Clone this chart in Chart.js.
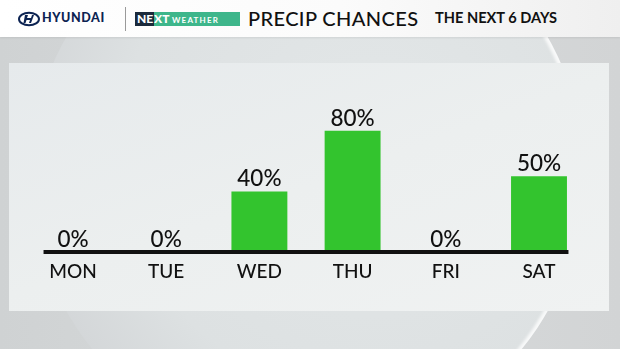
<!DOCTYPE html>
<html>
<head>
<meta charset="utf-8">
<script src="https://cdn.jsdelivr.net/npm/chart.js@4"></script>
<style>
  html, body { margin: 0; padding: 0; }
  body { width: 620px; height: 349px; overflow: hidden; position: relative;
         background: linear-gradient(90deg, #cfd2d3 0%, #d8dbdc 50%, #d2d4d5 100%);
         font-family: Lato, "Noto Sans", sans-serif; }
  .sphere { position: absolute; left: 30px; top: -103px; width: 554px; height: 554px; border-radius: 50%;
            background: radial-gradient(circle at 62% 45%, #e3e7e8 0%, #dde1e2 55%, #d2d5d7 80%, #c3c6c8 100%);
            box-shadow: inset -4px 0 3px rgba(255,255,255,0.8); }
  .header { position: absolute; left: 0; top: 0; width: 620px; height: 37px;
            background: linear-gradient(90deg, #ffffff 0%, #fbfbfb 55%, #efefef 100%);
            box-shadow: 0 1px 2px rgba(0,0,0,0.08); }
  .panel { position: absolute; left: 9px; top: 63px; width: 600px; height: 248px;
           background: linear-gradient(160deg, #e6eaec 0%, #ecefef 50%, #f0f2f2 100%); }
  .txt { position: absolute; white-space: nowrap; line-height: 1; }
  .brand { left: 42px; top: 12px; font-size: 12.5px; font-weight: 900; color: #0c2352; letter-spacing: 0.6px; }
  .sep { position: absolute; left: 125px; top: 7px; width: 1px; height: 24px; background: #9a9a9a; }
  .nw-dark { position: absolute; left: 135px; top: 12px; width: 19px; height: 14px; background: #1b2a3b; }
  .nw-green { position: absolute; left: 154px; top: 12px; width: 86px; height: 14px; background: #3eb68b; }
  .nw1 { left: 137px; top: 13px; font-size: 12px; font-weight: 900; color: #fff; }
  .nw2 { left: 154px; top: 13px; font-size: 12px; font-weight: 900; color: #fff; }
  .nw3 { left: 172px; top: 15.5px; font-size: 8px; font-weight: 700; color: #fff; letter-spacing: 1.2px; }
  .title { left: 248px; top: 8px; font-size: 20px; font-weight: 500; color: #111; letter-spacing: 0.4px; }
  .sub { left: 435px; top: 11px; font-size: 14.6px; font-weight: 700; color: #111; }
  canvas { position: absolute; left: 0; top: 0; }
</style>
</head>
<body>
<div class="sphere"></div>
<div class="header">
  <svg style="position:absolute;left:18px;top:11px" width="22" height="16" viewBox="0 0 22 16">
    <ellipse cx="11" cy="8" rx="10" ry="6.3" fill="none" stroke="#0c2352" stroke-width="2"/>
    <path d="M7 4 L10 4 L9 7 L13 7 L14 4 L16 4 L13 12 L11 12 L12 9 L8.5 9 L7.5 12 L5.5 12 Z" fill="#0c2352"/>
  </svg>
  <div class="txt brand">HYUNDAI</div>
  <div class="sep"></div>
  <div class="nw-dark"></div>
  <div class="nw-green"></div>
  <div class="txt nw1">NE</div>
  <div class="txt nw2">XT</div>
  <div class="txt nw3">WEATHER</div>
  <div class="txt title">PRECIP CHANCES</div>
  <div class="txt sub">THE NEXT 6 DAYS</div>
</div>
<div class="panel"></div>
<canvas id="chart" width="620" height="349"></canvas>
<script>
const days = ["MON", "TUE", "WED", "THU", "FRI", "SAT"];
const precipChance = [0, 0, 40, 80, 0, 50];
const valueLabels = ["0%", "0%", "40%", "80%", "0%", "50%"];

const barColor = "#33c42e";
const ink = "#111111";

// baseline under the bars + percent labels above them
const barExtras = {
    id: "barExtras",
    afterDatasetsDraw(chart) {
        const ctx = chart.ctx;
        const bars = chart.getDatasetMeta(0).data;
        const first = bars[0], last = bars[bars.length - 1];
        const y0 = chart.scales.y.getPixelForValue(0);
        const x1 = first.x - first.width / 2 - 1.5;
        const x2 = last.x + last.width / 2 + 1.5;

        ctx.save();
        ctx.fillStyle = ink;
        ctx.fillRect(x1, y0 - 2, x2 - x1, 4);

        ctx.font = "500 22.5px Lato";
        ctx.textAlign = "center";
        ctx.textBaseline = "alphabetic";
        bars.forEach((bar, i) => {
            ctx.fillText(valueLabels[i], bar.x, bar.y - 5);
        });
        ctx.restore();
    }
};

new Chart(document.getElementById("chart"), {
    type: "bar",
    data: {
        labels: days,
        datasets: [{
            data: precipChance,
            backgroundColor: barColor,
            borderWidth: 0,
            barPercentage: 0.6,
            categoryPercentage: 1
        }]
    },
    options: {
        responsive: false,
        animation: false,
        events: [],
        layout: { padding: { left: 26.4, right: 34.4, top: 100.5, bottom: 57 } },
        plugins: { legend: { display: false }, tooltip: { enabled: false } },
        scales: {
            x: {
                grid: { display: false, drawTicks: false },
                border: { display: false },
                ticks: { color: ink, font: { family: "Lato", size: 19, weight: 500 }, padding: 8 },
                afterFit: s => { s.height = 40; }
            },
            y: {
                display: false,
                min: 0,
                max: 100
            }
        }
    },
    plugins: [barExtras]
});
</script>
</body>
</html>
